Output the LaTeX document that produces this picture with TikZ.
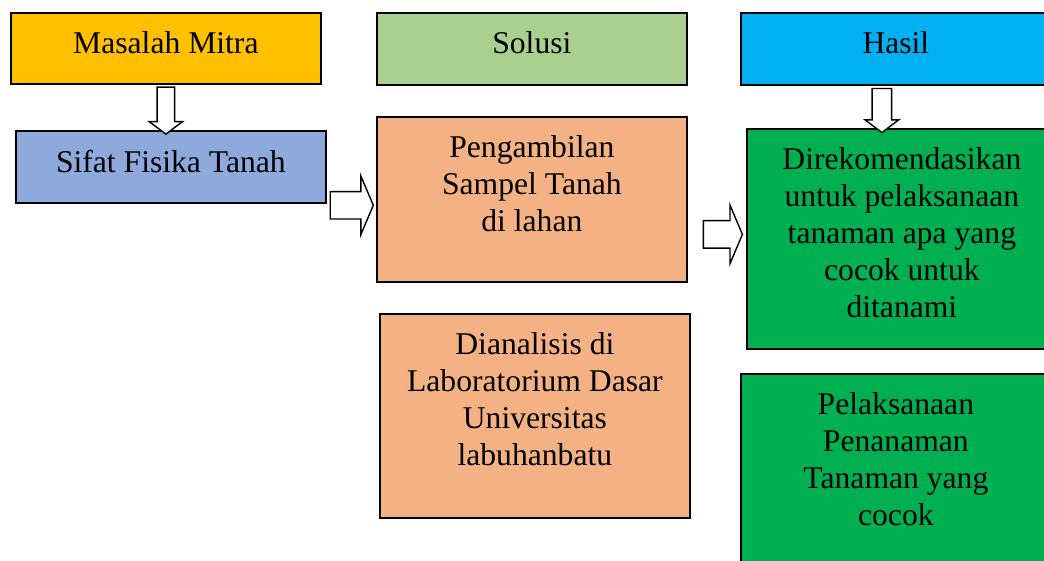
\documentclass[tikz,border=0pt]{standalone}
\usepackage{fontspec}
\setmainfont{Liberation Serif}
\usetikzlibrary{shapes.arrows,calc}

\definecolor{kuning}{HTML}{FFC000}
\definecolor{hijaumuda}{HTML}{A9D08E}
\definecolor{biru}{HTML}{00B0F0}
\definecolor{birumuda}{HTML}{8EA9DB}
\definecolor{jingga}{HTML}{F4B183}
\definecolor{hijau}{HTML}{00B050}

\newcommand{\isikotak}[2]{\parbox[t][#1][t]{5.8cm}{\centering #2}}

\tikzset{
  kotak/.style = {draw=black, line width=1pt, anchor=north west, inner xsep=0.2cm, inner ysep=0.38cm,
    font=\fontsize{18}{21}\selectfont},
  panahbawah/.style = {single arrow, draw=black, fill=white, line width=0.8pt, inner xsep=0pt,
    rotate=-90, single arrow tip angle=106},
  panahkanan/.style = {single arrow, draw=black, fill=white, line width=0.8pt, inner xsep=0pt,
    inner ysep=0.26cm, minimum width=1.14cm, single arrow head extend=0.31cm, single arrow tip angle=134}
}

\begin{document}
\begin{tikzpicture}
\useasboundingbox (0,0) rectangle (20.88,-11.2);

\node[kotak, fill=kuning] (masalah) at (0.2,-0.24) {\isikotak{0.66cm}{Masalah Mitra}};
\node[kotak, fill=hijaumuda] (solusi) at (7.52,-0.24) {\isikotak{0.68cm}{Solusi}};
\node[kotak, fill=biru] (hasil) at (14.8,-0.24) {\isikotak{0.68cm}{Hasil}};

\node[kotak, fill=birumuda] (sifat) at (0.3,-2.6) {\isikotak{0.68cm}{Sifat Fisika Tanah}};
\node[kotak, fill=jingga] (ambil) at (7.52,-2.32) {\isikotak{2.54cm}{Pengambilan\\ Sampel Tanah\\ di lahan}};
\node[kotak, fill=jingga] (analisis) at (7.58,-6.26) {\isikotak{3.32cm}{Dianalisis di\\ Laboratorium Dasar\\ Universitas\\ labuhanbatu}};
\node[kotak, fill=hijau] (rekomendasi) at (14.92,-2.56) {\isikotak{3.64cm}{Direkomendasikan\\ untuk pelaksanaan\\ tanaman apa yang\\ cocok untuk\\ ditanami}};
\node[kotak, fill=hijau] (pelaksanaan) at (14.8,-7.46) {\isikotak{4.4cm}{Pelaksanaan\\ Penanaman\\ Tanaman yang\\ cocok}};

\node[panahbawah, inner ysep=0.16cm, minimum height=0.94cm, minimum width=0.64cm, single arrow head extend=0.16cm]
  (p1) at ($(masalah.south)!0.5!(masalah.south|-sifat.north)$) {};
\node[panahkanan, minimum height=0.86cm] (p2) at ($(sifat.south east)!0.5!(ambil.west|-sifat.south east)+(-0.05,-0.03)$) {};
\node[panahkanan, minimum height=0.78cm] (p3) at ($(rekomendasi.west)+(-0.52,0.09)$) {};
\node[panahbawah, inner ysep=0.18cm, minimum height=0.88cm, minimum width=0.64cm, single arrow head extend=0.14cm]
  (p4) at ($(hasil.south)!0.5!(hasil.south|-rekomendasi.north)+(-0.28,0)$) {};
\end{tikzpicture}
\end{document}
